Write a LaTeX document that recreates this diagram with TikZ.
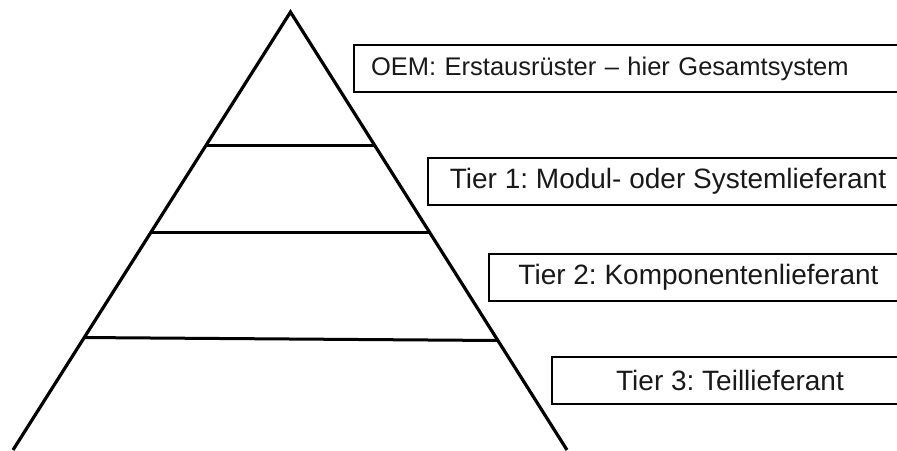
\documentclass[tikz,border=0pt]{standalone}
\usepackage{fontspec}
\setmainfont{Liberation Sans}
\usetikzlibrary{calc}
\frenchspacing
\begin{document}
\begin{tikzpicture}[x=1pt,y=-1pt,
  tierbox/.style={draw=black, line width=2pt, anchor=west, minimum height=47pt,
    inner ysep=0pt, font=\fontsize{28}{33}\selectfont, text=black!90},
  edge/.style={line width=3.2pt, line join=miter},
  level/.style={line width=3pt}]
  \useasboundingbox (0,0) rectangle (897,450);
  \begin{scope}
    \clip (0,0) rectangle (897,450);
    % pyramid outline (open at the bottom)
    \coordinate (apex) at (290.5,12);
    \coordinate (bl) at (13,450);
    \coordinate (br) at (567,450);
    \draw[edge] (bl) -- (apex) -- (br);
    % level separators
    \coordinate (l1a) at ($(apex)!0.3037!(bl)$);
    \coordinate (l1b) at ($(apex)!0.3037!(br)$);
    \coordinate (l2a) at ($(apex)!0.5034!(bl)$);
    \coordinate (l2b) at ($(apex)!0.5034!(br)$);
    \coordinate (l3a) at ($(apex)!0.7432!(bl)$);
    \coordinate (l3b) at ($(apex)!0.7500!(br)$);
    \draw[level] (l1a) -- (l1b);
    \draw[level] (l2a) -- (l2b);
    \draw[level] (l3a) -- (l3b);
    % labels
    \node[tierbox, inner xsep=17pt, text width=560pt, align=left,
      font=\fontsize{25.5}{30}\selectfont] (oem) at (353,68.5)
      {OEM: Erstausrüster – hier Gesamtsystem};
    \node[tierbox, inner xsep=0pt, minimum width=480pt] (t1) at (427,181.5)
      {Tier 1: Modul- oder Systemlieferant};
    \node[tierbox, inner xsep=0pt, minimum width=419pt] (t2) at (488,277.5)
      {Tier 2: Komponentenlieferant};
    \node[tierbox, inner xsep=0pt, minimum width=356pt] (t3) at (551,380.5)
      {Tier 3: Teillieferant};
  \end{scope}
\end{tikzpicture}
\end{document}
